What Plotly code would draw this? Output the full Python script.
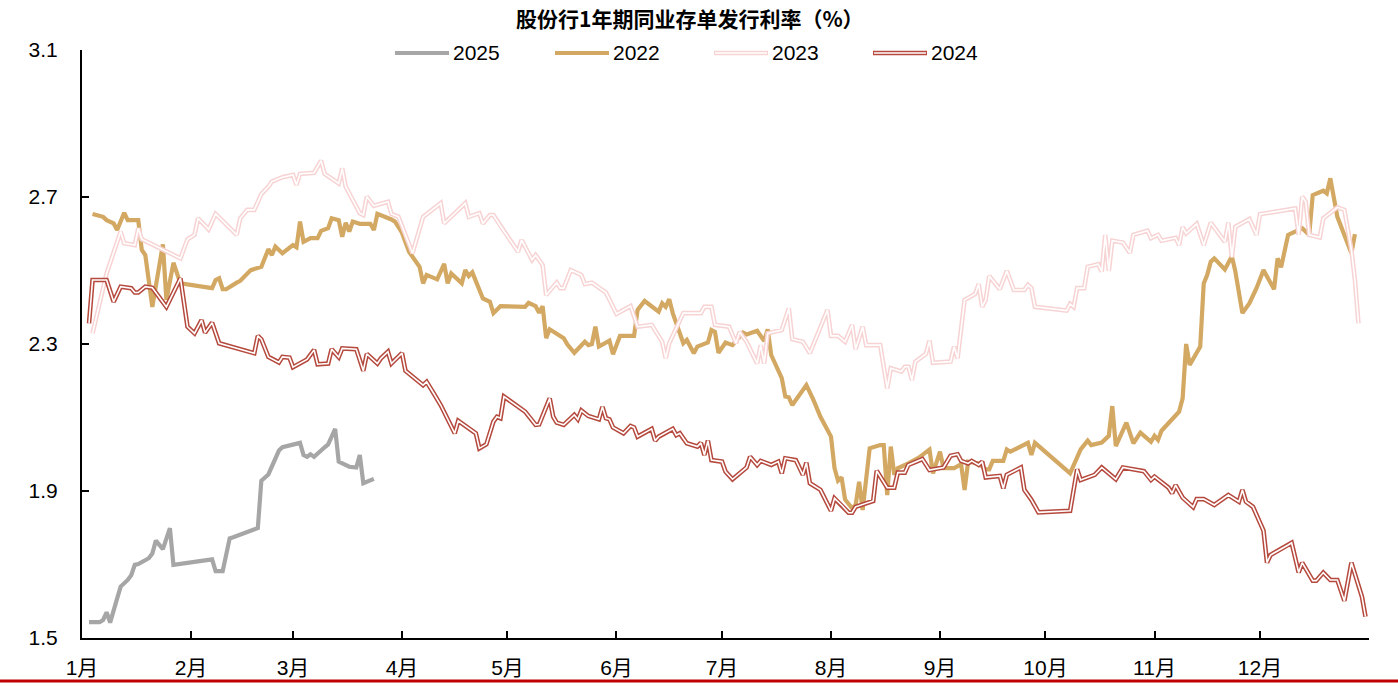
import pandas as pd
import plotly.graph_objects as go

# ---- data: day offset from 1 Jan, issuance rate (%) ----
day_2025 = [2, 5, 6, 7, 8, 9, 10, 11, 13, 14,
            15, 16, 19, 20, 21, 23, 25, 26, 37, 38,
            40, 42, 43, 50, 51, 53, 56, 57, 62, 63,
            64, 65, 66, 69, 70, 72, 73, 76, 78, 79,
            80, 83]
rate_2025 = [1.543, 1.543, 1.549, 1.570, 1.542, 1.581, 1.608, 1.640, 1.658, 1.671,
             1.699, 1.701, 1.717, 1.730, 1.765, 1.742, 1.799, 1.699, 1.714, 1.682,
             1.682, 1.771, 1.774, 1.799, 1.928, 1.945, 2.010, 2.019, 2.031, 1.998,
             1.993, 2.000, 1.993, 2.019, 2.027, 2.069, 1.980, 1.966, 1.964, 1.998,
             1.921, 1.933]

day_2022 = [3, 6, 7, 9, 10, 12, 13, 16, 17, 18,
            20, 23, 24, 26, 28, 37, 38, 39, 40, 41,
            44, 45, 48, 51, 53, 54, 55, 57, 60, 61,
            62, 63, 65, 67, 68, 70, 71, 73, 74, 75,
            76, 77, 79, 82, 83, 84, 88, 89, 91, 93,
            96, 97, 98, 101, 103, 104, 105, 108, 109, 110,
            111, 113, 114, 116, 117, 119, 126, 127, 129, 130,
            131, 132, 133, 137, 138, 140, 143, 144, 145, 146,
            147, 150, 151, 153, 157, 158, 160, 164, 165, 166,
            167, 168, 171, 172, 174, 175, 178, 179, 180, 181,
            183, 185, 188, 189, 192, 194, 195, 196, 199, 200,
            201, 202, 206, 208, 210, 213, 214, 215, 216, 217,
            219, 220, 221, 222, 224, 227, 228, 229, 230, 231,
            232, 235, 238, 241, 242, 244, 245, 248, 250, 251,
            252, 255, 257, 258, 259, 262, 263, 264, 269, 270,
            271, 281, 284, 286, 287, 290, 292, 293, 294, 297,
            299, 301, 304, 305, 306, 307, 312, 313, 314, 315,
            318, 319, 320, 321, 322, 325, 327, 328, 330, 332,
            334, 336, 339, 340, 341, 343, 345, 347, 349, 350,
            353, 354, 355, 357, 361, 362]
rate_2022 = [2.654, 2.646, 2.637, 2.628, 2.610, 2.657, 2.637, 2.637, 2.556, 2.542,
             2.401, 2.571, 2.420, 2.521, 2.465, 2.452, 2.474, 2.479, 2.449, 2.449,
             2.467, 2.472, 2.501, 2.510, 2.558, 2.542, 2.565, 2.547, 2.569, 2.563,
             2.633, 2.578, 2.588, 2.588, 2.608, 2.615, 2.642, 2.637, 2.592, 2.630,
             2.606, 2.633, 2.627, 2.627, 2.610, 2.654, 2.639, 2.633, 2.603, 2.551,
             2.510, 2.465, 2.488, 2.476, 2.518, 2.465, 2.492, 2.465, 2.501, 2.485,
             2.495, 2.447, 2.424, 2.415, 2.384, 2.403, 2.401, 2.412, 2.403, 2.385,
             2.403, 2.316, 2.340, 2.316, 2.299, 2.276, 2.306, 2.297, 2.300, 2.347,
             2.293, 2.309, 2.272, 2.322, 2.322, 2.393, 2.417, 2.388, 2.411, 2.401,
             2.422, 2.384, 2.302, 2.311, 2.275, 2.293, 2.304, 2.338, 2.333, 2.276,
             2.304, 2.297, 2.331, 2.326, 2.336, 2.308, 2.340, 2.270, 2.207, 2.157,
             2.155, 2.134, 2.188, 2.148, 2.102, 2.048, 1.962, 1.928, 1.937, 1.877,
             1.853, 1.862, 1.925, 1.848, 2.016, 2.025, 2.025, 1.889, 2.021, 1.944,
             1.962, 1.975, 1.991, 2.013, 1.948, 2.007, 1.962, 1.962, 1.973, 1.903,
             1.980, 1.975, 1.959, 1.959, 1.982, 1.982, 2.013, 2.007, 2.031, 1.998,
             2.031, 1.948, 2.013, 2.037, 2.025, 2.032, 2.050, 2.131, 2.022, 2.086,
             2.030, 2.059, 2.034, 2.050, 2.039, 2.064, 2.116, 2.152, 2.300, 2.243,
             2.293, 2.465, 2.488, 2.524, 2.533, 2.503, 2.539, 2.497, 2.384, 2.411,
             2.452, 2.501, 2.449, 2.533, 2.509, 2.597, 2.607, 2.615, 2.597, 2.705,
             2.717, 2.710, 2.751, 2.646, 2.547, 2.599]

day_2023 = [3, 7, 11, 12, 15, 16, 17, 28, 30, 32,
            33, 36, 38, 44, 45, 47, 49, 51, 53, 54,
            57, 60, 61, 62, 66, 68, 69, 73, 74, 75,
            79, 80, 81, 83, 87, 88, 90, 94, 97, 102,
            103, 105, 109, 110, 113, 114, 116, 117, 119, 124,
            125, 128, 129, 131, 132, 135, 136, 137, 139, 142,
            143, 145, 149, 152, 156, 158, 162, 165, 166, 167,
            171, 176, 177, 179, 180, 184, 185, 186, 187, 189,
            192, 193, 194, 195, 199, 201, 202, 205, 207, 212,
            213, 215, 217, 219, 220, 222, 223, 227, 229, 230,
            233, 234, 235, 236, 237, 240, 241, 242, 247, 248,
            249, 251, 254, 255, 256, 257, 258, 261, 263, 265,
            268, 269, 270, 271, 280, 281, 282, 283, 285, 286,
            289, 290, 291, 292, 293, 296, 298, 299, 303, 304,
            306, 307, 311, 312, 313, 314, 317, 319, 321, 325,
            326, 327, 328, 332, 334, 335, 345, 346, 347, 348,
            349, 352, 353, 357, 359, 361, 362, 363]
rate_2023 = [2.329, 2.492, 2.606, 2.574, 2.569, 2.615, 2.585, 2.533, 2.585, 2.597,
             2.642, 2.612, 2.654, 2.597, 2.642, 2.665, 2.665, 2.708, 2.728, 2.742,
             2.754, 2.760, 2.733, 2.763, 2.766, 2.799, 2.763, 2.737, 2.778, 2.728,
             2.656, 2.651, 2.701, 2.676, 2.687, 2.654, 2.646, 2.547, 2.646, 2.683,
             2.628, 2.646, 2.683, 2.646, 2.656, 2.628, 2.651, 2.651, 2.621, 2.551,
             2.583, 2.529, 2.542, 2.515, 2.433, 2.467, 2.452, 2.452, 2.501, 2.488,
             2.463, 2.467, 2.440, 2.382, 2.403, 2.347, 2.352, 2.306, 2.261, 2.302,
             2.384, 2.384, 2.401, 2.401, 2.352, 2.347, 2.324, 2.302, 2.333, 2.306,
             2.247, 2.297, 2.247, 2.329, 2.338, 2.397, 2.313, 2.306, 2.275, 2.393,
             2.322, 2.322, 2.306, 2.352, 2.286, 2.347, 2.297, 2.297, 2.179, 2.234,
             2.225, 2.238, 2.238, 2.202, 2.252, 2.273, 2.309, 2.249, 2.252, 2.293,
             2.261, 2.420, 2.436, 2.463, 2.401, 2.420, 2.485, 2.449, 2.499, 2.447,
             2.447, 2.461, 2.452, 2.401, 2.391, 2.409, 2.401, 2.452, 2.452, 2.510,
             2.517, 2.497, 2.597, 2.499, 2.581, 2.576, 2.548, 2.597, 2.608, 2.588,
             2.597, 2.581, 2.589, 2.569, 2.618, 2.601, 2.627, 2.569, 2.630, 2.578,
             2.630, 2.536, 2.619, 2.640, 2.597, 2.653, 2.669, 2.597, 2.701, 2.687,
             2.597, 2.590, 2.642, 2.672, 2.665, 2.556, 2.474, 2.356]

day_2024 = [2, 3, 7, 9, 11, 14, 15, 16, 18, 20,
            24, 28, 30, 32, 34, 35, 37, 39, 49, 50,
            51, 53, 56, 57, 59, 60, 64, 66, 67, 70,
            71, 73, 74, 78, 80, 81, 84, 85, 87, 88,
            91, 92, 97, 98, 100, 102, 106, 107, 112, 113,
            115, 117, 118, 119, 120, 126, 129, 130, 133, 134,
            135, 137, 140, 141, 142, 144, 147, 148, 149, 150,
            151, 154, 156, 157, 158, 162, 163, 164, 168, 169,
            170, 172, 175, 176, 177, 178, 179, 182, 183, 185,
            189, 190, 192, 193, 196, 198, 199, 200, 203, 205,
            206, 207, 210, 213, 214, 216, 218, 219, 220, 225,
            226, 229, 231, 232, 234, 235, 239, 241, 245, 247,
            249, 250, 252, 253, 255, 256, 257, 261, 262, 263,
            267, 268, 270, 272, 281, 283, 284, 288, 290, 294,
            296, 302, 304, 305, 309, 310, 311, 313, 316, 317,
            319, 322, 326, 329, 330, 331, 333, 336, 337, 338,
            343, 344, 346, 347, 350, 351, 353, 355, 357, 359,
            361, 364, 365]
rate_2024 = [2.356, 2.474, 2.474, 2.415, 2.456, 2.452, 2.440, 2.440, 2.456, 2.453,
             2.401, 2.479, 2.347, 2.329, 2.365, 2.331, 2.358, 2.302, 2.275, 2.322,
             2.313, 2.265, 2.250, 2.265, 2.263, 2.237, 2.258, 2.284, 2.245, 2.247,
             2.286, 2.264, 2.288, 2.286, 2.227, 2.273, 2.247, 2.261, 2.279, 2.247,
             2.275, 2.227, 2.188, 2.197, 2.166, 2.134, 2.057, 2.091, 2.057, 2.016,
             2.027, 2.089, 2.102, 2.098, 2.157, 2.116, 2.080, 2.081, 2.152, 2.102,
             2.086, 2.080, 2.107, 2.095, 2.119, 2.104, 2.095, 2.129, 2.098, 2.095,
             2.073, 2.057, 2.077, 2.073, 2.048, 2.069, 2.037, 2.048, 2.069, 2.052,
             2.057, 2.030, 2.021, 2.031, 1.998, 2.037, 1.984, 1.980, 1.953, 1.932,
             1.964, 1.993, 1.971, 1.982, 1.971, 1.980, 1.948, 1.989, 1.984, 1.944,
             1.977, 1.921, 1.903, 1.846, 1.880, 1.862, 1.841, 1.841, 1.857, 1.873,
             1.955, 1.909, 1.909, 1.950, 1.950, 1.971, 1.987, 1.957, 1.964, 1.996,
             2.000, 1.982, 1.975, 1.982, 1.971, 1.980, 1.937, 1.941, 1.907, 1.944,
             1.964, 1.903, 1.876, 1.842, 1.846, 1.959, 1.930, 1.944, 1.964, 1.932,
             1.964, 1.954, 1.930, 1.939, 1.909, 1.894, 1.916, 1.882, 1.856, 1.878,
             1.878, 1.862, 1.889, 1.871, 1.903, 1.871, 1.857, 1.792, 1.705, 1.726,
             1.753, 1.759, 1.678, 1.705, 1.656, 1.656, 1.678, 1.658, 1.658, 1.601,
             1.705, 1.612, 1.558]

month_labels = ["1月", "2月", "3月", "4月", "5月", "6月",
                "7月", "8月", "9月", "10月", "11月", "12月"]
y_ticks = [1.5, 1.9, 2.3, 2.7, 3.1]

# ---- layout constants (pixels) ----
W, H = 1398, 686
ML, MR, MT, MB = 82, 29, 50, 48
PW, PH = W - ML - MR, H - MT - MB

def px_x(x):
    return (x - ML) / PW

def px_y(y):
    return (H - MB - y) / PH

BASE = pd.Timestamp("2024-01-01")

def to_dates(days):
    return [BASE + pd.Timedelta(days=d) for d in days]

LATIN = "Liberation Sans Narrow, Arial Narrow, Liberation Sans, Arial, Noto Sans CJK SC, sans-serif"
GRAY = "#A6A6A6"
TAN = "#D3A862"
PINK = "#F7D3D3"
RED = "#B5493D"

fig = go.Figure()

series = [
    ("2025", day_2025, rate_2025, GRAY, False),
    ("2022", day_2022, rate_2022, TAN, False),
    ("2023", day_2023, rate_2023, PINK, True),
    ("2024", day_2024, rate_2024, RED, True),
]

for name, days, rates, color, double in series:
    assert len(days) == len(rates), name
    x = to_dates(days)
    if double:
        # double-rule line: wide coloured stroke with a thin white core
        fig.add_trace(go.Scatter(x=x, y=rates, mode="lines", name=name,
                                 line=dict(color=color, width=4.6),
                                 showlegend=False, hoverinfo="skip"))
        fig.add_trace(go.Scatter(x=x, y=rates, mode="lines", name=name,
                                 line=dict(color="white", width=1.6),
                                 showlegend=False))
    else:
        fig.add_trace(go.Scatter(x=x, y=rates, mode="lines", name=name,
                                 line=dict(color=color, width=4.2),
                                 showlegend=False))

# ---- legend row drawn with shapes + text ----
legend_items = [("2025", 395, GRAY, False), ("2022", 555, TAN, False),
                ("2023", 714, PINK, True), ("2024", 873, RED, True)]
shapes = []
annotations = []
ly = px_y(53)
for name, x0, color, double in legend_items:
    shapes.append(dict(type="line", xref="paper", yref="paper",
                       x0=px_x(x0), x1=px_x(x0 + 54), y0=ly, y1=ly,
                       line=dict(color=color, width=4.6 if double else 4.2)))
    if double:
        shapes.append(dict(type="line", xref="paper", yref="paper",
                           x0=px_x(x0 + 1), x1=px_x(x0 + 53), y0=ly, y1=ly,
                           line=dict(color="white", width=1.6)))
    annotations.append(dict(text=name, xref="paper", yref="paper",
                            x=px_x(x0 + 56), y=ly, xanchor="left", yanchor="middle",
                            showarrow=False, font=dict(family=LATIN, size=21, color="black")))

# title
annotations.append(dict(text="<b>股份行1年期同业存单发行利率（%）</b>", xref="paper", yref="paper",
                        x=px_x(690), y=px_y(18), xanchor="center", yanchor="middle",
                        showarrow=False,
                        font=dict(family="Noto Sans CJK SC, sans-serif", size=21, color="black")))

# red rule along the bottom edge
shapes.append(dict(type="line", xref="paper", yref="paper",
                   x0=px_x(0), x1=px_x(W), y0=px_y(681), y1=px_y(681),
                   line=dict(color="#C00000", width=3)))

month_starts = [BASE + pd.DateOffset(months=i) for i in range(13)]

fig.update_layout(
    width=W, height=H, autosize=False,
    margin=dict(l=ML, r=MR, t=MT, b=MB, autoexpand=False),
    paper_bgcolor="white", plot_bgcolor="white",
    showlegend=False,
    shapes=shapes, annotations=annotations,
    xaxis=dict(
        type="date",
        range=[month_starts[0], month_starts[12]],
        tickvals=month_starts,
        ticktext=month_labels + [""],
        ticks="inside", ticklen=7, tickwidth=1.5, tickcolor="black",
        showline=True, linecolor="black", linewidth=2,
        showgrid=False, zeroline=False, automargin=False,
        ticklabelstandoff=10,
        tickfont=dict(family=LATIN, size=21, color="black"),
    ),
    yaxis=dict(
        range=[1.5, 3.1],
        tickvals=y_ticks,
        ticktext=[f"{v:.1f}" for v in y_ticks],
        ticks="inside", ticklen=7, tickwidth=1.5, tickcolor="black",
        showline=True, linecolor="black", linewidth=2,
        showgrid=False, zeroline=False, automargin=False,
        ticklabelstandoff=18,
        tickfont=dict(family=LATIN, size=21, color="black"),
    ),
)

fig.write_html("out.html", post_script="document.body.style.margin='0';")
